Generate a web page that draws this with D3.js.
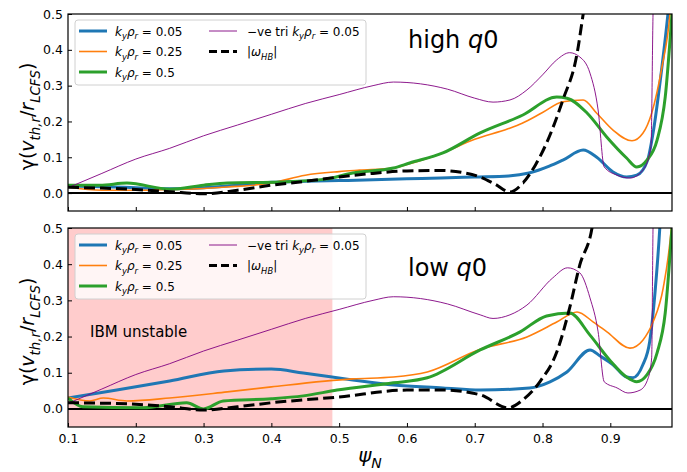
<!DOCTYPE html>
<html><head><meta charset="utf-8">
<script src="https://cdn.jsdelivr.net/npm/d3@7"></script>
<style>body{margin:0;background:#fff}svg{display:block;font-family:"DejaVu Sans",sans-serif}</style>
</head><body><svg id="c" width="687" height="472"></svg>
<script>
// ---- data ----
const psiTicks=[0.1,0.2,0.3,0.4,0.5,0.6,0.7,0.8,0.9];
const gammaTicks=[0.0,0.1,0.2,0.3,0.4,0.5];
const ibmRange=[0.1,0.49];

// high q0 panel  [psi, gamma]
const highBlue=[[0.1,0.02],[0.15,0.018],[0.2,0.015],[0.25,0.012],[0.3,0.015],[0.35,0.022],[0.4,0.03],[0.45,0.033],[0.5,0.035],[0.55,0.037],[0.6,0.04],[0.65,0.042],[0.7,0.045],[0.75,0.048],[0.78,0.056],[0.81,0.075],[0.83,0.092],[0.86,0.12],[0.88,0.1],[0.904,0.059],[0.924,0.045],[0.939,0.05],[0.955,0.092],[0.963,0.167],[0.976,0.35],[0.985,0.5],[0.99,0.6]];
const highOrange=[[0.1,0.017],[0.15,0.008],[0.2,0.008],[0.25,0.01],[0.3,0.013],[0.335,0.017],[0.4,0.028],[0.45,0.05],[0.5,0.06],[0.53,0.064],[0.58,0.07],[0.6,0.08],[0.65,0.11],[0.7,0.15],[0.75,0.18],[0.77,0.195],[0.8,0.225],[0.83,0.255],[0.86,0.26],[0.88,0.223],[0.904,0.176],[0.932,0.146],[0.948,0.167],[0.961,0.223],[0.976,0.35],[0.988,0.5],[0.992,0.6]];
const highGreen=[[0.1,0.022],[0.147,0.022],[0.187,0.028],[0.25,0.011],[0.3,0.022],[0.335,0.028],[0.413,0.031],[0.48,0.039],[0.52,0.056],[0.58,0.07],[0.604,0.084],[0.653,0.112],[0.708,0.168],[0.771,0.218],[0.821,0.268],[0.836,0.265],[0.866,0.223],[0.895,0.156],[0.924,0.098],[0.939,0.073],[0.954,0.092],[0.969,0.148],[0.981,0.268],[0.991,0.5],[0.995,0.6]];
const highPurple=[[0.1,0.015],[0.15,0.055],[0.2,0.095],[0.25,0.125],[0.3,0.16],[0.35,0.19],[0.4,0.22],[0.45,0.25],[0.5,0.275],[0.55,0.3],[0.58,0.31],[0.62,0.305],[0.66,0.29],[0.7,0.265],[0.727,0.254],[0.752,0.26],[0.777,0.288],[0.8,0.33],[0.821,0.372],[0.84,0.392],[0.855,0.38],[0.87,0.335],[0.882,0.232],[0.891,0.073],[0.91,0.05],[0.929,0.042],[0.948,0.064],[0.96,0.13],[0.963,0.5],[0.964,0.6]];
const highHB=[[0.1,0.016],[0.15,0.014],[0.2,0.01],[0.25,0.004],[0.3,-0.002],[0.35,0.008],[0.4,0.022],[0.45,0.033],[0.5,0.045],[0.55,0.055],[0.6,0.062],[0.65,0.063],[0.68,0.058],[0.708,0.045],[0.73,0.025],[0.752,0.003],[0.771,0.028],[0.79,0.08],[0.806,0.14],[0.83,0.26],[0.851,0.39],[0.86,0.5],[0.865,0.56]];

// low q0 panel
const lowBlue=[[0.1,0.03],[0.172,0.052],[0.25,0.077],[0.33,0.105],[0.4,0.11],[0.447,0.099],[0.52,0.08],[0.58,0.066],[0.653,0.058],[0.708,0.052],[0.781,0.058],[0.811,0.075],[0.836,0.102],[0.87,0.163],[0.885,0.146],[0.904,0.122],[0.924,0.088],[0.933,0.086],[0.948,0.122],[0.958,0.185],[0.966,0.323],[0.973,0.5],[0.976,0.6]];
const lowOrange=[[0.1,0.033],[0.132,0.022],[0.152,0.03],[0.187,0.022],[0.25,0.03],[0.335,0.047],[0.4,0.061],[0.52,0.083],[0.58,0.088],[0.63,0.102],[0.708,0.165],[0.777,0.199],[0.821,0.24],[0.851,0.268],[0.875,0.24],[0.895,0.213],[0.929,0.168],[0.948,0.19],[0.963,0.24],[0.978,0.334],[0.99,0.5],[0.994,0.6]];
const lowGreen=[[0.1,0.03],[0.122,0.006],[0.21,0.003],[0.275,0.017],[0.3,0.0],[0.329,0.022],[0.4,0.028],[0.447,0.036],[0.497,0.052],[0.58,0.072],[0.63,0.086],[0.708,0.163],[0.767,0.213],[0.806,0.257],[0.84,0.265],[0.87,0.204],[0.899,0.135],[0.924,0.088],[0.939,0.075],[0.954,0.094],[0.969,0.155],[0.981,0.265],[0.991,0.5],[0.995,0.6]];
const lowPurple=[[0.1,0.015],[0.15,0.055],[0.2,0.095],[0.25,0.125],[0.3,0.16],[0.35,0.19],[0.4,0.22],[0.45,0.25],[0.5,0.275],[0.55,0.3],[0.58,0.31],[0.62,0.305],[0.66,0.29],[0.708,0.26],[0.727,0.25],[0.752,0.26],[0.777,0.287],[0.815,0.362],[0.837,0.39],[0.855,0.376],[0.87,0.307],[0.882,0.213],[0.891,0.075],[0.91,0.058],[0.926,0.044],[0.944,0.052],[0.956,0.086],[0.961,0.141],[0.963,0.5],[0.964,0.6]];
const lowHB=[[0.1,0.017],[0.187,0.014],[0.25,0.006],[0.3,-0.003],[0.35,0.006],[0.4,0.017],[0.5,0.033],[0.6,0.052],[0.653,0.052],[0.708,0.039],[0.749,0.003],[0.771,0.025],[0.796,0.075],[0.821,0.157],[0.84,0.279],[0.855,0.398],[0.873,0.5],[0.878,0.56]];

// ---- drawing ----
const svg=d3.select("#c");
const x=d3.scaleLinear().domain([0.1,0.991]).range([68,672]);

function mathText(sel,parts,fs){
  let shift=0;
  parts.forEach(p=>{
    const target=p.sub?fs*0.3:0;
    sel.append("tspan").text(p.t)
      .attr("dy",target-shift)
      .attr("font-size",p.sub?fs*0.7:fs)
      .attr("font-style",p.it?"italic":"normal");
    shift=target;
  });
}
const kLabel=v=>[{t:"k",it:1},{t:"y",it:1,sub:1},{t:"ρ",it:1},{t:"r",it:1,sub:1},{t:" = "+v}];

const styles={
  blue:{c:"#1f77b4",w:3},orange:{c:"#ff7f0e",w:1.6},green:{c:"#2ca02c",w:3},
  purple:{c:"#800080",w:0.9},hb:{c:"#000",w:3,dash:"11,5"}
};
const legendItems=[
  {key:"blue",col:0,row:0,label:kLabel("0.05")},
  {key:"orange",col:0,row:1,label:kLabel("0.25")},
  {key:"green",col:0,row:2,label:kLabel("0.5")},
  {key:"purple",col:1,row:0,label:[{t:"−ve tri "}].concat(kLabel("0.05"))},
  {key:"hb",col:1,row:1,label:[{t:"|"},{t:"ω",it:1},{t:"HB",it:1,sub:1},{t:"|"}]}
];

const panels=[
  {top:14,bottom:211,series:{blue:highBlue,orange:highOrange,green:highGreen,purple:highPurple,hb:highHB},
   title:[{t:"high "},{t:"q",it:1},{t:"0"}],titleY:48,showX:false,ibm:false},
  {top:228,bottom:427,series:{blue:lowBlue,orange:lowOrange,green:lowGreen,purple:lowPurple,hb:lowHB},
   title:[{t:"low "},{t:"q",it:1},{t:"0"}],titleY:276,showX:true,ibm:true}
];

panels.forEach((P,i)=>{
  const y=d3.scaleLinear().domain([-0.05,0.5]).range([P.bottom,P.top]);
  const g=svg.append("g");
  const cid="clip"+i;
  svg.append("clipPath").attr("id",cid).append("rect")
    .attr("x",x.range()[0]).attr("y",P.top).attr("width",x.range()[1]-x.range()[0]).attr("height",P.bottom-P.top);
  const plot=g.append("g").attr("clip-path",`url(#${cid})`);
  if(P.ibm){
    plot.append("rect").attr("x",x(ibmRange[0])).attr("width",x(ibmRange[1])-x(ibmRange[0]))
      .attr("y",P.top).attr("height",P.bottom-P.top).attr("fill","#ffcccc");
    g.append("text").attr("x",90).attr("y",337).attr("font-size",15).text("IBM unstable");
  }
  plot.append("line").attr("x1",x.range()[0]).attr("x2",x.range()[1]).attr("y1",y(0)).attr("y2",y(0))
    .attr("stroke","#000").attr("stroke-width",2);
  const line=d3.line().x(d=>x(d[0])).y(d=>y(d[1])).curve(d3.curveMonotoneX);
  ["blue","orange","green","purple","hb"].forEach(k=>{
    const s=styles[k];
    plot.append("path").datum(P.series[k]).attr("d",line).attr("fill","none")
      .attr("stroke",s.c).attr("stroke-width",s.w).attr("stroke-dasharray",s.dash||null)
      .attr("stroke-linejoin","round");
  });
  // axes
  const ya=g.append("g").attr("transform",`translate(${x.range()[0]},0)`)
    .call(d3.axisLeft(y).tickValues(gammaTicks).tickSize(-4).tickPadding(5).tickFormat(d3.format(".1f")));
  const xa=g.append("g").attr("transform",`translate(0,${P.bottom})`)
    .call(d3.axisBottom(x).tickValues(psiTicks).tickSize(-4).tickPadding(7).tickFormat(P.showX?d3.format(".1f"):""));
  [ya,xa].forEach(a=>{a.select(".domain").remove();a.selectAll("text").attr("font-size",12.5).attr("fill","#000").attr("font-family","DejaVu Sans");a.selectAll("line").attr("stroke","#000");});
  g.append("rect").attr("x",x.range()[0]).attr("y",P.top).attr("width",x.range()[1]-x.range()[0]).attr("height",P.bottom-P.top)
    .attr("fill","none").attr("stroke","#000").attr("stroke-width",1.2);
  // title
  const t=g.append("text").attr("x",408).attr("y",P.titleY).attr("font-size",24);
  mathText(t,P.title,24);
  // legend
  const lg=g.append("g");
  lg.append("rect").attr("x",75).attr("y",P.top+6).attr("width",291).attr("height",65).attr("rx",3)
    .attr("fill","#fff").attr("fill-opacity",0.8).attr("stroke","#d0d0d0");
  legendItems.forEach(it=>{
    const s=styles[it.key];
    const hx=it.col===0?79:209, tx=it.col===0?115:247;
    const ly=P.top+17+it.row*20.5;
    lg.append("line").attr("x1",hx).attr("x2",hx+28).attr("y1",ly).attr("y2",ly)
      .attr("stroke",s.c).attr("stroke-width",s.w).attr("stroke-dasharray",s.dash?"8,4":null);
    const tt=lg.append("text").attr("x",tx).attr("y",ly+4.5).attr("font-size",12);
    mathText(tt,it.label,12);
  });
  // y label
  const yl=svg.append("text").attr("transform",`translate(34,${(P.top+P.bottom)/2+4}) rotate(-90)`)
    .attr("text-anchor","middle").attr("font-size",19);
  mathText(yl,[{t:"γ("},{t:"v",it:1},{t:"th,r",it:1,sub:1},{t:"/"},{t:"r",it:1},{t:"LCFS",it:1,sub:1},{t:")"}],19);
});
const xl=svg.append("text").attr("x",370).attr("y",462).attr("text-anchor","middle").attr("font-size",20);
mathText(xl,[{t:"ψ",it:1},{t:"N",it:1,sub:1}],20);
</script></body></html>
